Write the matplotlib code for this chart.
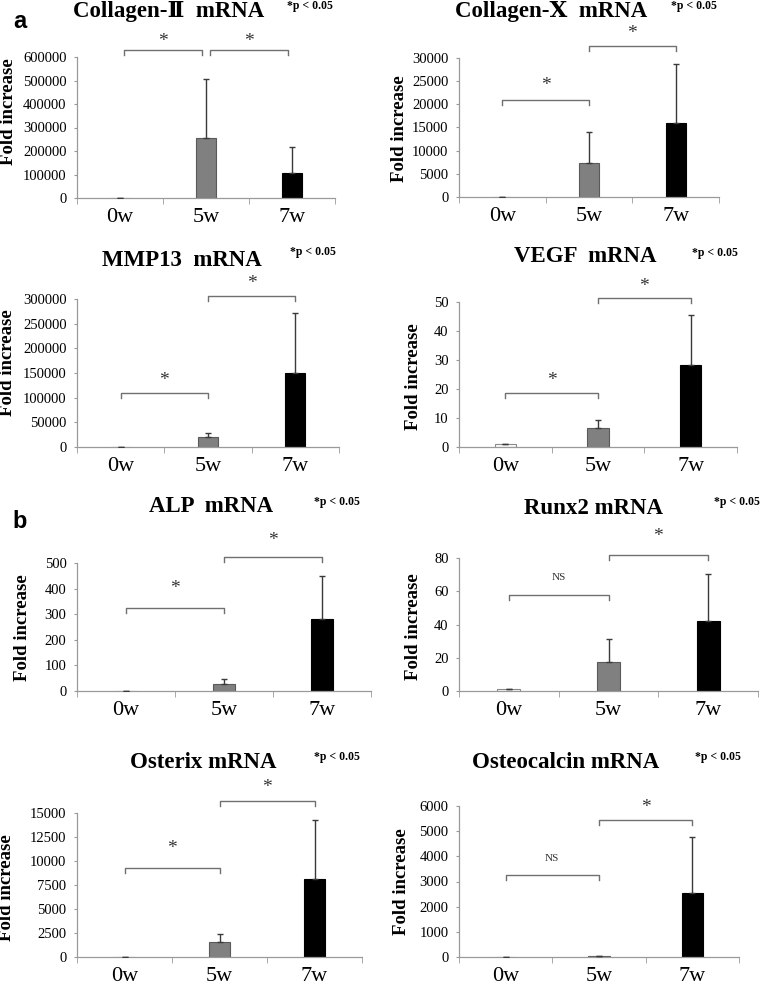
import matplotlib.pyplot as plt

W, H = 761, 989
serif = ["Liberation Serif", "DejaVu Serif"]

weeks = ["0w", "5w", "7w"]
titles = [
    "Collagen-Ⅱ  mRNA",
    "Collagen-Ⅹ  mRNA",
    "MMP13  mRNA",
    "VEGF  mRNA",
    "ALP  mRNA",
    "Runx2 mRNA",
    "Osterix mRNA",
    "Osteocalcin mRNA",
]
y_max = [600000, 30000, 300000, 50, 500, 80, 15000, 6000]
y_step = [100000, 5000, 50000, 10, 100, 20, 2500, 1000]

means = [
    [1, 257000, 108000],
    [1, 7260, 16000],
    [1, 20300, 151000],
    [1, 6.7, 28.3],
    [1, 28, 280],
    [1.2, 17.4, 41.9],
    [1, 1550, 8090],
    [1, 30, 2560],
]
upper_err = [
    [0, 251000, 109000],
    [0, 6670, 12640],
    [0, 8100, 120000],
    [0, 2.6, 17.1],
    [0, 20, 168],
    [0, 13.9, 28.5],
    [0, 830, 6150],
    [0, 0, 2210],
]

# significance brackets: (0w vs 5w), (5w vs 7w)
sig_labels = [
    ["*", "*"], ["*", "*"], ["*", "*"], ["*", "*"],
    ["*", "*"], ["NS", "*"], ["*", "*"], ["NS", "*"],
]
bracket_y = [
    [631500, 631500],
    [21040, 32520],
    [109700, 306700],
    [18.7, 51.3],
    [323, 523],
    [57.5, 81.6],
    [9290, 16210],
    [3257, 5434],
]
label_y = [
    [664000, 664000],
    [24120, 35250],
    [135500, 331900],
    [23.1, 55.3],
    [401, 588],
    [68, 93],
    [11300, 17700],
    [3918, 5960],
]

# axes boxes in pixels: left, right, top, bottom
boxes = [
    (77, 335, 57, 198),
    (459, 719, 58, 197),
    (77, 339, 299, 447),
    (459, 737, 302, 447),
    (77, 371, 563, 691),
    (459, 758, 558, 691),
    (77, 362, 813, 957),
    (459, 739, 806, 957),
]
title_pos = [(169, 12), (551, 12), (182, 260), (585, 256),
             (211, 507), (593, 508), (203, 763), (566, 762)]
p_pos = [(310, 6), (694, 6), (313, 252), (715, 253),
         (337, 502), (737, 502), (337, 757), (718, 757)]
ylabel_pos = [(9, 112), (400, 129), (8, 363), (414, 377),
              (23, 628), (414, 627), (7, 888), (401, 882)]
bracket_gap = [0.05, 0, 0, 0, 0, 0, 0, 0]

face_colors = ["white", "#808080", "black"]
edge_colors = ["#8a8a8a", "#5a5a5a", "black"]
axis_gray = "#9a9a9a"

fig = plt.figure(figsize=(W / 100, H / 100), dpi=100)

for i in range(8):
    left, right, top, bottom = boxes[i]
    ax = fig.add_axes([left / W, 1 - bottom / H, (right - left) / W, (bottom - top) / H])
    x = range(3)
    ax.bar(x, means[i], width=0.23, color=face_colors, edgecolor=edge_colors,
           linewidth=0.8, zorder=2)
    ax.errorbar(x, means[i], yerr=[[0, 0, 0], upper_err[i]], fmt="none",
                ecolor="#3a3a3a", elinewidth=1, capsize=2, capthick=1, zorder=3)
    ax.set_xlim(-0.5, 2.5)
    ax.set_ylim(0, y_max[i])
    ax.set_yticks([k * y_step[i] for k in range(int(round(y_max[i] / y_step[i])) + 1)])
    ax.set_xticks(list(x))
    ax.set_xticklabels(weeks, fontsize=16, family=serif)
    ax.set_xticks([-0.5, 0.5, 1.5, 2.5], minor=True)
    ax.tick_params(axis="x", which="major", length=0, pad=7)
    ax.tick_params(axis="x", which="minor", length=4, color=axis_gray, direction="out")
    ax.tick_params(axis="y", length=2.5, color=axis_gray, direction="out", pad=5)
    for lab in ax.get_yticklabels():
        lab.set_fontfamily(serif)
        lab.set_fontsize(10.5)
    for side in ["top", "right"]:
        ax.spines[side].set_visible(False)
    for side in ["left", "bottom"]:
        ax.spines[side].set_color(axis_gray)
        ax.spines[side].set_linewidth(0.9)

    tick = 5 / (bottom - top) * y_max[i]
    gap = bracket_gap[i]
    for j, (a, b) in enumerate([(0, 1), (1, 2)]):
        xa = a + gap
        xb = b - gap
        yb = bracket_y[i][j]
        ax.plot([xa, xa, xb, xb], [yb - tick, yb, yb, yb - tick], color="#707070",
                linewidth=1, clip_on=False)
        if sig_labels[i][j] == "NS":
            ax.text((xa + xb) / 2, label_y[i][j], "NS", ha="center", va="center",
                    fontsize=8, family=serif, color="#333333", clip_on=False)
        else:
            ax.text((xa + xb) / 2, label_y[i][j], "*", ha="center", va="center",
                    fontsize=14, family=serif, color="#333333", clip_on=False)

    tx, ty = title_pos[i]
    fig.text(tx / W, 1 - ty / H, titles[i], ha="center", va="center",
             fontsize=16.5, fontweight="bold", family=serif)
    px, py = p_pos[i]
    fig.text(px / W, 1 - py / H, "*p < 0.05", ha="center", va="center",
             fontsize=8.5, fontweight="bold", family=serif)
    lx, ly = ylabel_pos[i]
    fig.text(lx / W, 1 - ly / H, "Fold increase", ha="center", va="center",
             rotation=90, fontsize=13.5, fontweight="bold", family=serif)

fig.text(20 / W, 1 - 22 / H, "a", ha="center", va="center", fontsize=17,
         fontweight="bold", family="Liberation Sans")
fig.text(20 / W, 1 - 522 / H, "b", ha="center", va="center", fontsize=17,
         fontweight="bold", family="Liberation Sans")

fig.savefig("out.png", dpi=100)
